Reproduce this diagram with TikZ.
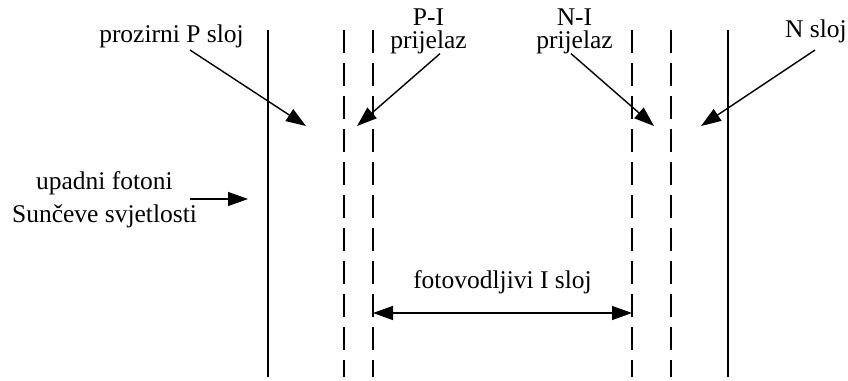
\documentclass[tikz,border=0pt]{standalone}
\usepackage{fontspec}
\setmainfont{Liberation Serif}
\usetikzlibrary{arrows.meta}

\begin{document}
\begin{tikzpicture}[
  x=1pt, y=-1pt,
  layer/.style={line width=2.3pt},
  junction/.style={line width=2.3pt, dash pattern=on 23pt off 10pt},
  lbl/.style={font=\fontsize{25.5}{22}\selectfont, align=center, anchor=base, inner sep=0pt},
  arr/.style={-{Triangle[length=20pt, width=14pt]}, line width=1.4pt},
  dimarr/.style={{Triangle[length=20pt, width=14pt]}-{Triangle[length=20pt, width=14pt]}, line width=1.4pt}
]
  \useasboundingbox (0,0) rectangle (848,380);

  % granice slojeva
  \draw[layer]    (268,30) -- (268,377);
  \draw[junction] (344,30) -- (344,377);
  \draw[junction] (373,30) -- (373,377);
  \draw[junction] (632,30) -- (632,377);
  \draw[junction] (671,30) -- (671,377);
  \draw[layer]    (728,30) -- (728,377);

  \coordinate (pzona)  at (306,126);
  \coordinate (pispoj) at (357,126);
  \coordinate (nispoj) at (654,126);
  \coordinate (nzona)  at (701,126);
  \coordinate (ulaz)   at (248,199);
  \coordinate (pirub)  at (373,313);
  \coordinate (nirub)  at (632,313);

  \node[lbl] (prozirni) at (171.5,42) {prozirni P sloj};
  \node[lbl] (pi)       at (428.5,48) {P-I\\[1pt]prijelaz};
  \node[lbl] (ni)       at (574.5,48) {N-I\\[1pt]prijelaz};
  \node[lbl] (nsloj)    at (816,37)   {N sloj};
  \node[lbl] (upadni)   at (104.5,222) {upadni fotoni\\[8pt]Sunčeve svjetlosti};

  \draw[arr] ([shift={(18.5pt,-8pt)}]prozirni.base) -- (pzona);
  \draw[arr] ([xshift=11.5pt]pi.south) -- (pispoj);
  \draw[arr] ([xshift=-3.5pt]ni.south) -- (nispoj);
  \draw[arr] ([shift={(-1pt,-13pt)}]nsloj.base) -- (nzona);
  \draw[arr, shorten <=-7pt] (upadni.east |- ulaz) -- (ulaz);

  \draw[dimarr] (pirub) -- node[lbl, yshift=25pt] (fotovod) {fotovodljivi I sloj} (nirub);
\end{tikzpicture}
\end{document}
